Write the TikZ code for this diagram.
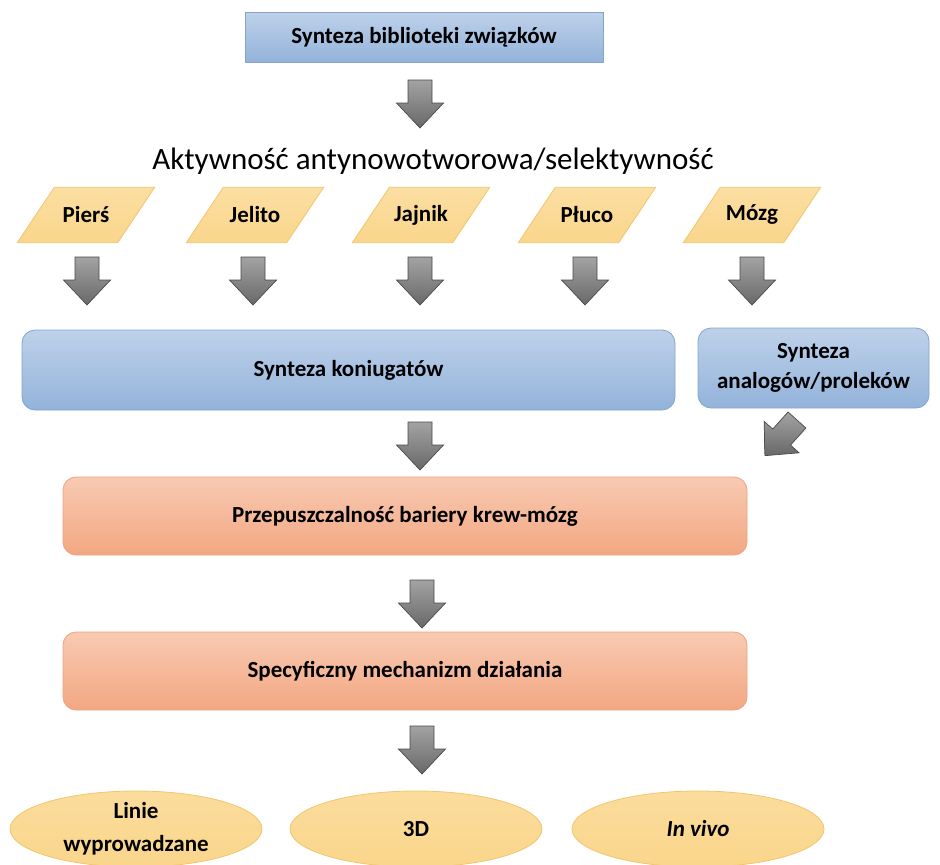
\documentclass[tikz,border=0pt]{standalone}
\usepackage{fontspec}
\setmainfont{Carlito}
\usetikzlibrary{shapes.geometric,calc,backgrounds}
\definecolor{bluetop}{HTML}{BED1EA}
\definecolor{bluebot}{HTML}{93B3DA}
\definecolor{blueline}{HTML}{86A3CB}
\definecolor{orgtop}{HTML}{F8CAB2}
\definecolor{orgbot}{HTML}{F3A782}
\definecolor{orgline}{HTML}{EBA384}
\definecolor{yelfill}{HTML}{FAD68B}
\definecolor{yelline}{HTML}{F1C56E}
\definecolor{arrtop}{HTML}{A3A3A3}
\definecolor{arrbot}{HTML}{686868}
\definecolor{arrline}{HTML}{4A4A4A}
\tikzset{
  lbl/.style={font=\fontsize{23}{30}\selectfont\bfseries, text=black, align=center},
  bluebox/.style={lbl, rectangle, top color=bluetop, bottom color=bluebot, draw=blueline, line width=0.8pt},
  orgbox/.style={lbl, rectangle, rounded corners=13pt, top color=orgtop, bottom color=orgbot, draw=orgline, line width=0.8pt, minimum width=684pt, minimum height=78pt},
  organ/.style={lbl, rectangle, minimum width=100pt, minimum height=55pt, inner sep=0pt},
  organshape/.style={top color=yelfill!80!white, bottom color=yelfill, draw=yelline, line width=0.8pt},
  model/.style={lbl, font=\fontsize{23}{33}\selectfont\bfseries, ellipse, top color=yelfill!85!white, bottom color=yelfill, draw=yelline, line width=0.8pt, minimum width=252pt, minimum height=76pt, inner sep=0pt},
  garrow/.style={top color=arrtop, bottom color=arrbot, draw=arrline, line width=0.7pt},
  downarrow/.pic={\path[garrow] (-12,0) -- (12,0) -- (12,23) -- (23.5,23) -- (0,48) -- (-23.5,23) -- (-12,23) -- cycle;}
}
\begin{document}
\begin{tikzpicture}[x=1pt,y=-1pt]
\useasboundingbox (0,0) rectangle (940,865);
% top box
\node[bluebox, minimum width=358pt, minimum height=50pt] (lib) at (424,37) {Synteza biblioteki związków};
\pic at (420,80) {downarrow};
\node[font=\fontsize{31}{36}\selectfont] (akt) at (433,161) {Aktywność antynowotworowa/selektywność};
% organs
\node[organ] (pier) at (86,215) {Pierś};
\node[organ] (jel) at (255,215) {Jelito};
\node[organ] (jaj) at (421,215) {Jajnik};
\node[organ] (plu) at (587,215) {Płuco};
\node[organ] (moz) at (752,215) {Mózg};
\begin{scope}[on background layer]
\foreach \n in {pier,jel,jaj,plu,moz} {
  \path[organshape] ($(\n.south west)+(-18.5,0)$) -- ($(\n.north west)+(18.5,0)$) -- ($(\n.north east)+(18.5,0)$) -- ($(\n.south east)+(-18.5,0)$) -- cycle;
}
\end{scope}
\foreach \xx in {87,253,420,585,752} {\pic at (\xx,257) {downarrow};}
% synthesis boxes
\node[bluebox, rounded corners=13pt, minimum width=653pt, minimum height=80pt] (kon) at (348.5,370) {Synteza koniugatów};
\node[bluebox, rounded corners=13pt, minimum width=231pt, minimum height=80pt] (ana) at (813.5,368) {Synteza\\analogów/proleków};
\pic at (420,422) {downarrow};
\pic[rotate=-42] at (797,420) {downarrow};
% orange boxes
\node[orgbox] (bbb) at (405,516) {Przepuszczalność bariery krew-mózg};
\pic at (422,580) {downarrow};
\node[orgbox] (mech) at (405,671) {Specyficzny mechanizm działania};
\pic at (422,726) {downarrow};
% models
\node[model] (lin) at (136,829) {Linie\\wyprowadzane};
\node[model] (d3) at (416,829) {3D};
\node[model] (viv) at (698,829) {\itshape In vivo};
\end{tikzpicture}
\end{document}
